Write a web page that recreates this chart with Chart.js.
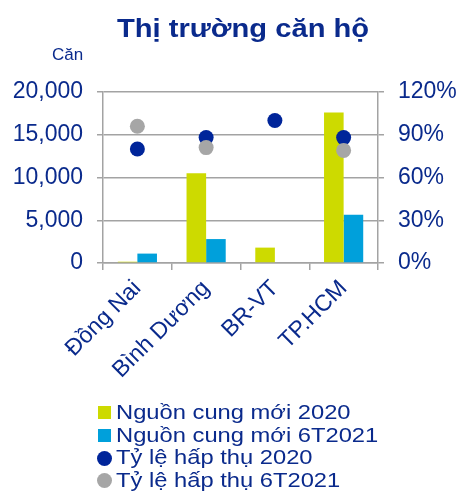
<!DOCTYPE html>
<html lang="vi">
<head>
<meta charset="utf-8">
<script src="https://cdn.jsdelivr.net/npm/chart.js@4/dist/chart.umd.min.js"></script>
<style>
  html, body { margin: 0; padding: 0; background: #fff; }
  #wrap { position: relative; width: 459px; height: 497px; overflow: hidden; font-family: "Liberation Sans", Arial, sans-serif; color: #0a2a8c; }
  #chart { position: absolute; left: 0; top: 0; }
  #title { position: absolute; left: 117px; top: 15px; font-size: 26px; line-height: 26px; font-weight: bold; white-space: nowrap; transform: scaleX(1.12); transform-origin: left center; }
  #unit { position: absolute; left: 52px; top: 46px; font-size: 17px; line-height: 17px; white-space: nowrap; }
  #legend { position: absolute; left: 98px; top: 401px; }
  .row { position: relative; height: 22.6px; line-height: 22.6px; font-size: 21px; white-space: nowrap; }
  .row span.txt { position: absolute; left: 18px; top: 0; transform: scaleX(1.13); transform-origin: left center; }
  .row span.mk { position: absolute; left: 0; top: 5px; width: 13px; height: 13px; }
  .row span.mk.dot { left: -1px; top: 4.5px; width: 15px; height: 15px; border-radius: 50%; }
</style>
</head>
<body>
<div id="wrap">
  <canvas id="chart" width="459" height="497"></canvas>
  <div id="title">Thị trường căn hộ</div>
  <div id="unit">Căn</div>
  <div id="legend"></div>
</div>
<script>
// Provinces / cities
const categories = ['Đồng Nai', 'Bình Dương', 'BR-VT', 'TP.HCM'];
// New apartment supply (units)
const supply2020 = [150, 10500, 1800, 17600];
const supply6T2021 = [1100, 2800, 0, 5650];
// Absorption rate (%)
const absorption2020 = [80, 88, 100, 88];
const absorption6T2021 = [96, 81, null, 79];
// Axis ticks
const unitTicks = [0, 5000, 10000, 15000, 20000];
const rateTicks = [0, 30, 60, 90, 120];

const seriesNames = ['Nguồn cung mới 2020', 'Nguồn cung mới 6T2021', 'Tỷ lệ hấp thụ 2020', 'Tỷ lệ hấp thụ 6T2021'];
const colors = ['#cdda00', '#00a0db', '#00259a', '#a6a6a6'];

const textColor = '#0a2a8c';
const gridColor = '#a3a3a3';
const fontFamily = '"Liberation Sans", Arial, sans-serif';

const pointDataset = (label, data, color, order) => ({
  type: 'line', label, data, yAxisID: 'y1', order,
  showLine: false, pointRadius: 7.5, pointHoverRadius: 7.5,
  pointBackgroundColor: color, pointBorderColor: color, pointBorderWidth: 0,
  backgroundColor: color, borderColor: color
});

new Chart(document.getElementById('chart'), {
  type: 'bar',
  data: {
    labels: categories,
    datasets: [
      { label: seriesNames[0], data: supply2020, backgroundColor: colors[0], yAxisID: 'y', order: 2,
        categoryPercentage: 0.57, barPercentage: 1.0 },
      { label: seriesNames[1], data: supply6T2021, backgroundColor: colors[1], yAxisID: 'y', order: 2,
        categoryPercentage: 0.57, barPercentage: 1.0 },
      pointDataset(seriesNames[2], absorption2020, colors[2], 1),
      pointDataset(seriesNames[3], absorption6T2021, colors[3], 0)
    ]
  },
  options: {
    responsive: false,
    animation: false,
    devicePixelRatio: 1,
    layout: { padding: { top: 92, left: 0, right: 0, bottom: 0 } },
    plugins: { legend: { display: false }, title: { display: false }, tooltip: { enabled: false } },
    scales: {
      x: {
        offset: true,
        grid: { display: true, drawOnChartArea: false, drawTicks: true, tickLength: 7, color: gridColor, lineWidth: 1.5, offset: true },
        border: { display: true, color: gridColor, width: 1.5 },
        ticks: { color: textColor, font: { family: fontFamily, size: 23 }, minRotation: 45, maxRotation: 45, autoSkip: false, padding: 5 },
        afterFit: s => { s.height = 234; }
      },
      y: {
        position: 'left', min: 0, max: 20000,
        afterBuildTicks: s => { s.ticks = unitTicks.map(v => ({ value: v })); },
        grid: { color: gridColor, lineWidth: 1.5, drawTicks: true, tickLength: 6 },
        border: { display: true, color: gridColor, width: 1.5 },
        ticks: { color: textColor, font: { family: fontFamily, size: 23 }, padding: 14,
          callback: v => v.toLocaleString('en-US') },
        afterFit: s => { s.width = 103; }
      },
      y1: {
        position: 'right', min: 0, max: 120,
        afterBuildTicks: s => { s.ticks = rateTicks.map(v => ({ value: v })); },
        grid: { drawOnChartArea: false, color: gridColor, lineWidth: 1.5, drawTicks: true, tickLength: 6 },
        border: { display: true, color: gridColor, width: 1.5 },
        ticks: { color: textColor, font: { family: fontFamily, size: 23 }, padding: 14,
          callback: v => v + '%' },
        afterFit: s => { s.width = 81; }
      }
    }
  }
});

// Legend, one series per row
const legend = document.getElementById('legend');
seriesNames.forEach((name, i) => {
  const row = document.createElement('div');
  row.className = 'row';
  const mk = document.createElement('span');
  mk.className = 'mk' + (i >= 2 ? ' dot' : '');
  mk.style.background = colors[i];
  const txt = document.createElement('span');
  txt.className = 'txt';
  txt.textContent = name;
  row.appendChild(mk);
  row.appendChild(txt);
  legend.appendChild(row);
});
</script>
</body>
</html>
